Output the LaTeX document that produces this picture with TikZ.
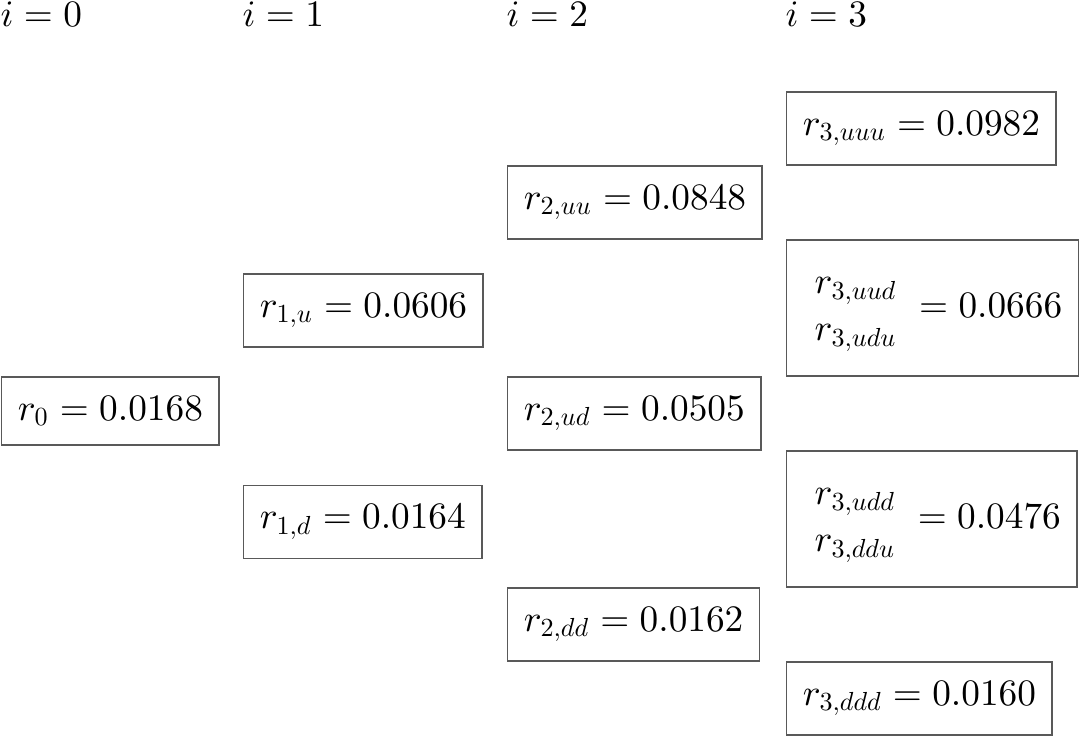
\documentclass[tikz,border=0pt]{standalone}
\usepackage{amsmath}
\DeclareFontShape{OML}{cmm}{m}{it}{<-> cmmi10}{}
\DeclareFontShape{OT1}{cmr}{m}{n}{<-> cmr10}{}
\DeclareFontShape{OMS}{cmsy}{m}{n}{<-> cmsy10}{}
\tikzset{
  ratebox/.style={draw=black!65, line width=0.4pt, inner xsep=4.3pt, inner ysep=5.1pt, anchor=west},
  pairbox/.style={ratebox, minimum height=36.4pt},
  steplabel/.style={inner sep=0pt, anchor=base west},
}
\newcommand{\pairrates}[2]{\begin{array}{@{\hspace{3.2pt}}l@{\hspace{3.1pt}}} #1\\[0.6pt] #2\end{array}}
\begin{document}
\begin{tikzpicture}[x=0.268pt,y=-0.268pt]
\useasboundingbox (0,0) rectangle (1079,737);
% step labels
\node[steplabel] (l0) at (0,27) {$i=0$};
\node[steplabel] (l1) at (242,27) {$i=1$};
\node[steplabel] (l2) at (506,27) {$i=2$};
\node[steplabel] (l3) at (785,27) {$i=3$};
% rates
\node[ratebox] (r0) at (1,411) {$r_0 = 0.0168$};
\node[ratebox] (r1u) at (243,310.5) {$r_{1,u} = 0.0606$};
\node[ratebox] (r1d) at (243,522) {$r_{1,d} = 0.0164$};
\node[ratebox] (r2uu) at (507,202.5) {$r_{2,uu} = 0.0848$};
\node[ratebox] (r2ud) at (507,413.5) {$r_{2,ud} = 0.0505$};
\node[ratebox] (r2dd) at (507,624.5) {$r_{2,dd} = 0.0162$};
\node[ratebox] (r3uuu) at (786,128.5) {$r_{3,uuu} = 0.0982$};
\node[pairbox] (r3uud) at (786,308) {$\pairrates{r_{3,uud}}{r_{3,udu}} = 0.0666$};
\node[pairbox] (r3udd) at (786,519) {$\pairrates{r_{3,udd}}{r_{3,ddu}} = 0.0476$};
\node[ratebox] (r3ddd) at (786,698.5) {$r_{3,ddd} = 0.0160$};
\end{tikzpicture}
\end{document}
